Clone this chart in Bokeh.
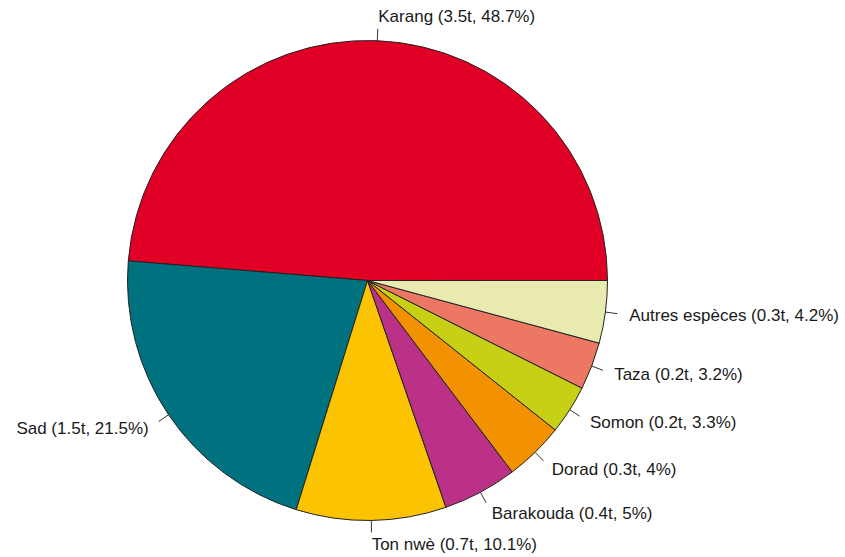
import numpy as np
from bokeh.plotting import figure
from bokeh.models import Range1d, ColumnDataSource
from bokeh.embed import file_html
from bokeh.resources import INLINE
from bokeh.core.properties import value

# Data
species = ["Karang", "Sad", "Ton nwè", "Barakouda", "Dorad", "Somon", "Taza", "Autres espèces"]
tonnes = [3.5, 1.5, 0.7, 0.4, 0.3, 0.2, 0.2, 0.3]
percent = [48.7, 21.5, 10.1, 5, 4, 3.3, 3.2, 4.2]
colors = ["#E00025", "#00717F", "#FCC300", "#BA3187", "#F39200", "#C8D016", "#EC7864", "#E8EAAF"]

# Layout (pixel units, centre of pie at origin)
W, H = 845, 557
cx, cy = 367, 280  # pie centre in figure pixels from left/top
R = 240

frac = np.array(percent, dtype=float) / sum(percent)
ends = np.cumsum(frac) * 2 * np.pi
starts = np.concatenate([[0.0], ends[:-1]])
mids = (starts + ends) / 2

labels = []
for s, t, pc in zip(species, tonnes, percent):
    pcs = ("%g" % pc)
    labels.append(f"{s} ({t:g}t, {pcs}%)")

src = ColumnDataSource(dict(
    start=starts, end=ends, color=colors,
    x0=R * np.cos(mids), y0=R * np.sin(mids),
    x1=1.05 * R * np.cos(mids), y1=1.05 * R * np.sin(mids),
    lx=1.1 * R * np.cos(mids), ly=1.1 * R * np.sin(mids),
    label=labels,
    align=["left" if np.cos(m) > 0 else "right" for m in mids],
))

p = figure(width=W, height=H, output_backend="svg", toolbar_location=None,
           x_range=Range1d(-cx, W - cx), y_range=Range1d(-(H - cy), cy),
           min_border=0, outline_line_color=None)
p.axis.visible = False
p.grid.visible = False
p.background_fill_color = "white"
p.border_fill_color = "white"

p.wedge(x=0, y=0, radius=R, start_angle="start", end_angle="end",
        fill_color="color", line_color="#222222", line_width=1, source=src)
p.segment(x0="x0", y0="y0", x1="x1", y1="y1", line_color="#333333", line_width=1, source=src)
p.text(x="lx", y="ly", text="label", text_align="align", text_baseline="middle",
       text_font=value("Liberation Sans"), text_font_size="17px", text_color="#1a1a1a",
       source=src)

open("out.html", "w").write(file_html(p, INLINE))
